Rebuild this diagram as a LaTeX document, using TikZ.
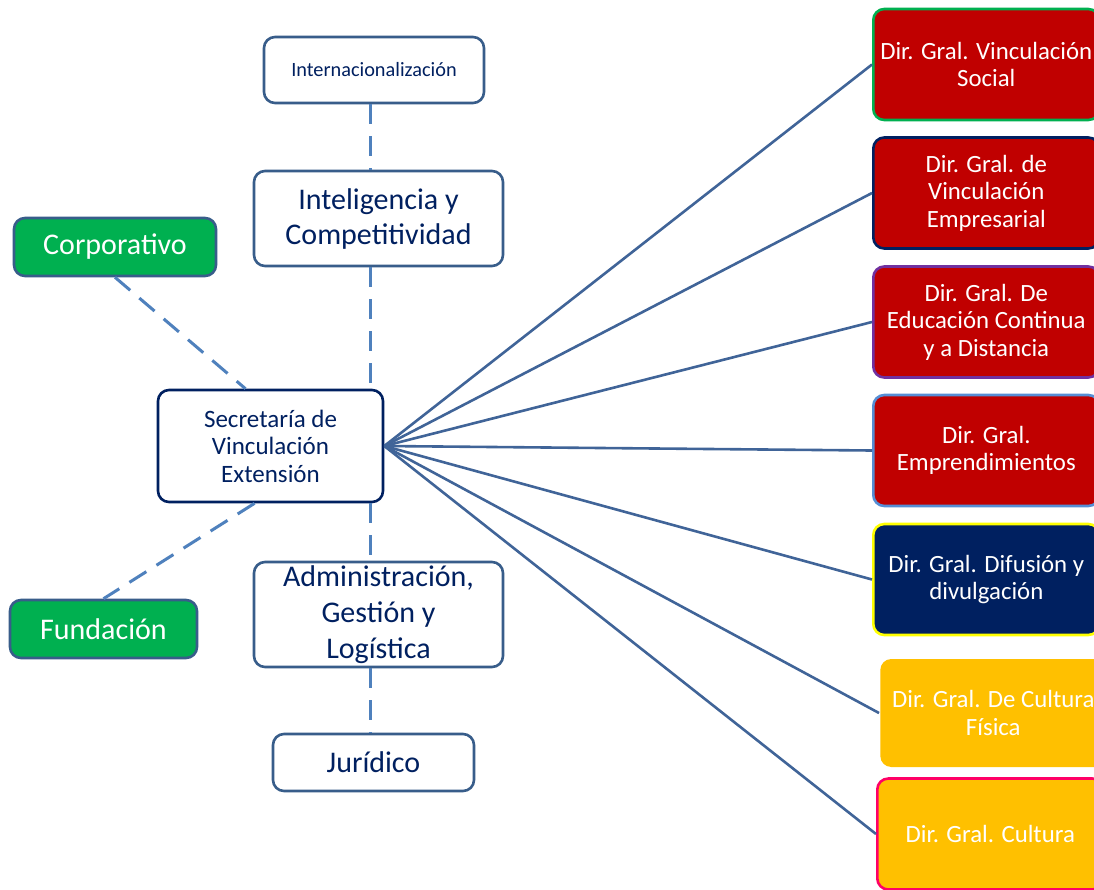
\documentclass[tikz,border=0pt]{standalone}
\usepackage{fontspec}
\setmainfont{Carlito}
\usepackage{tikz}
\usetikzlibrary{positioning,calc}
\definecolor{azulnoche}{RGB}{0,32,96}
\definecolor{azulborde}{RGB}{56,93,138}
\definecolor{azullinea}{RGB}{64,100,152}
\definecolor{azulguion}{RGB}{79,129,189}
\definecolor{verde}{RGB}{0,176,80}
\definecolor{rojo}{RGB}{192,0,0}
\definecolor{ambar}{RGB}{255,192,0}
\definecolor{morado}{RGB}{112,48,160}
\definecolor{celeste}{RGB}{85,142,213}
\definecolor{amarillo}{RGB}{255,255,0}
\definecolor{rosa}{RGB}{255,0,102}
\tikzset{
  area/.style = {
    rectangle,
    rounded corners = 11pt,
    draw = azulborde,
    line width = 2.6pt,
    fill = white,
    text = azulnoche,
    align = center,
    inner sep = 0pt,
    font = \fontsize{30}{35}\selectfont
  }
  , % green boxes on the left
  ente/.style = {
    area,
    fill = verde,
    text = white
  }
  , % boxes on the right
  direccion/.style = {
    rectangle,
    rounded corners = 11pt,
    line width = 2.6pt,
    fill = rojo,
    text = white,
    align = center,
    inner sep = 0pt,
    minimum width = 226pt,
    minimum height = 111pt,
    anchor = west,
    font = \fontsize{24.8}{27.5}\selectfont
  }
  , % solid links
  enlace/.style = {
    draw = azullinea,
    line width = 2.6pt
  }
  , % dashed links
  guion/.style = {
    draw = azulguion,
    line width = 3pt,
    dash pattern = on 20pt off 12pt
  }
}
\begin{document}
\begin{tikzpicture}[x = 1pt, y = -1pt]
\path [fill = white, use as bounding box] (0,0) rectangle (1094,889);
\coordinate (eje) at (370,0);

\node [area, minimum width = 220pt, minimum height = 66pt, font = \fontsize{20.3}{24}\selectfont] (intl) at (374,70) {Internacionalización};
\node [area, minimum width = 249pt, minimum height = 95pt] (inteli) at (378.5,218.5) {Inteligencia y\\Competitividad};
\node [ente, minimum width = 202pt, minimum height = 58pt] (corp) at (115,247) {Corporativo};
\node [area, draw = azulnoche, minimum width = 225pt, minimum height = 112pt, font = \fontsize{25}{27.5}\selectfont] (sec) at (270.5,446) {Secretaría de\\Vinculación\\Extensión};
\node [ente, minimum width = 187pt, minimum height = 58pt] (fund) at (103.5,629) {Fundación};
\node [area, minimum width = 249pt, minimum height = 105pt, font = \fontsize{30}{36}\selectfont] (admin) at (378.5,614.5) {Administración,\\Gestión y\\Logística};
\node [area, minimum width = 201pt, minimum height = 57pt] (jur) at (373.5,762.5) {Jurídico};

\node [direccion, draw = verde] (d1) at (872,64.5) {Dir. Gral. Vinculación\\Social};
\node [direccion, draw = azulnoche] (d2) at (872,193) {Dir. Gral. de\\Vinculación\\Empresarial};
\node [direccion, draw = morado] (d3) at (872,322) {Dir. Gral. De\\Educación Continua\\y a Distancia};
\node [direccion, draw = celeste] (d4) at (872,450.5) {Dir. Gral.\\Emprendimientos};
\node [direccion, draw = amarillo, fill = azulnoche] (d5) at (872,579.5) {Dir. Gral. Difusión y\\divulgación};
\node [direccion, fill = ambar, minimum height = 108pt] (d6) at (879,713) {Dir. Gral. De Cultura\\Física};
\node [direccion, draw = rosa, fill = ambar] (d7) at (876,834) {Dir. Gral. Cultura};

\draw [guion] (intl.south -| eje) -- (inteli.north -| eje);
\draw [guion] (inteli.south -| eje) -- (sec.north -| eje);
\draw [guion] (sec.south -| eje) -- (admin.north -| eje);
\draw [guion] (admin.south -| eje) -- (jur.north -| eje);
\draw [guion] (corp.south) -- ($(sec.north west)!0.39!(sec.north east)$);
\draw [guion] ($(sec.south west)!0.43!(sec.south east)$) -- (fund.north);

\foreach \d in {d1,d2,d3,d4,d5,d6,d7}
  \draw [enlace] (sec.east) -- (\d.west);
\end{tikzpicture}
\end{document}
